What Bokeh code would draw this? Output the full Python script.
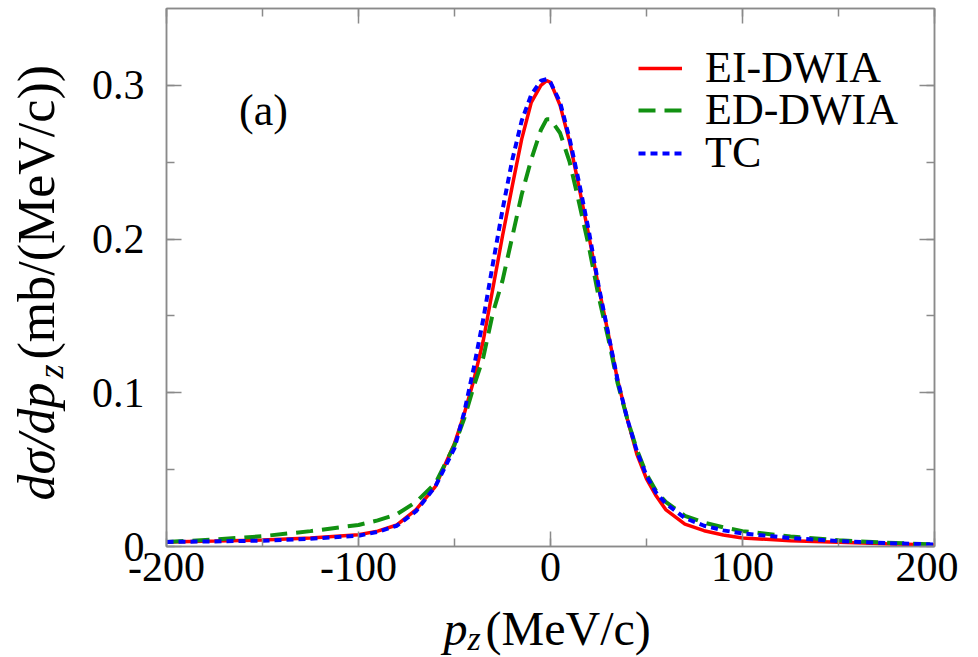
import math
from bokeh.plotting import figure
from bokeh.layouts import column, row
from bokeh.models import (Range1d, SingleIntervalTicker, LinearAxis, Label, Legend, LegendItem,
                          CustomJSTickFormatter)
from bokeh.embed import file_html
from bokeh.resources import INLINE

# ---- data ----
pz = [-200, -175, -150, -125, -100, -90, -80, -70, -60, -50, -45, -40, -35, -30, -25, -20, -15, -10, -5, -2, 0,
      5, 10, 15, 20, 25, 30, 35, 40, 45, 50, 55, 60, 70, 80, 90, 100, 125, 150, 175, 200]
ei_dwia = [0.003, 0.0035, 0.0042, 0.0055, 0.0077, 0.0100, 0.0140, 0.0240, 0.039, 0.067, 0.086, 0.108, 0.134, 0.168,
           0.202, 0.234, 0.265, 0.289, 0.300, 0.303, 0.302,
           0.287, 0.263, 0.233, 0.202, 0.169, 0.139, 0.108, 0.083, 0.060, 0.044, 0.033, 0.024, 0.0145, 0.0103,
           0.0075, 0.0055, 0.0038, 0.0027, 0.0018, 0.001]
ed_dwia = [0.003, 0.0045, 0.0067, 0.010, 0.014, 0.017, 0.021, 0.029, 0.041, 0.066, 0.083, 0.104, 0.123, 0.152,
           0.173, 0.201, 0.229, 0.252, 0.271, 0.278, 0.278,
           0.269, 0.250, 0.223, 0.195, 0.163, 0.136, 0.106, 0.083, 0.063, 0.047, 0.036, 0.029, 0.020, 0.0155,
           0.0125, 0.010, 0.0065, 0.004, 0.0025, 0.0013]
tc = [0.003, 0.0033, 0.0038, 0.005, 0.007, 0.0095, 0.0135, 0.023, 0.039, 0.064, 0.087, 0.116, 0.148, 0.184,
      0.219, 0.251, 0.277, 0.294, 0.303, 0.304, 0.302,
      0.289, 0.265, 0.236, 0.205, 0.170, 0.139, 0.108, 0.083, 0.062, 0.046, 0.035, 0.028, 0.0185, 0.0135,
      0.0105, 0.0085, 0.0055, 0.0035, 0.0022, 0.0013]
series_names = ["EI-DWIA", "ED-DWIA", "TC"]
x_ticks_labels = {-200: "-200", -100: "-100", 0: "0", 100: "100", 200: "200"}
y_ticks_labels = {0: "0", 0.1: "0.1", 0.2: "0.2", 0.3: "0.3"}
panel_tag = "(a)"

SERIF = "Liberation Serif"
GRAY = "#8a8a8a"
MAIN_H = 600

# ---------------- main plot ----------------
p = figure(width=888, height=MAIN_H, output_backend="svg", toolbar_location=None,
           x_range=Range1d(-200, 200), y_range=Range1d(0, 0.35),
           min_border_left=96, min_border_right=24, min_border_top=8, min_border_bottom=MAIN_H - 546,
           x_axis_type=None, y_axis_type=None)
p.grid.visible = False
p.outline_line_color = GRAY
p.outline_line_width = 1.5
p.background_fill_color = "white"
p.border_fill_color = "white"


def style_axis(ax, labels=True):
    ax.axis_line_color = GRAY
    ax.axis_line_width = 1.5
    ax.major_tick_line_color = GRAY
    ax.minor_tick_line_color = GRAY
    ax.major_tick_line_width = 1.5
    ax.minor_tick_line_width = 1.5
    ax.major_tick_in = 15
    ax.major_tick_out = 0
    ax.minor_tick_in = 8
    ax.minor_tick_out = 0
    ax.major_label_text_font = SERIF
    ax.major_label_text_color = "black"
    ax.major_label_text_font_size = "42px"
    if not labels:
        ax.formatter = CustomJSTickFormatter(code="return ''")
        ax.major_label_standoff = 0


xb = LinearAxis(ticker=SingleIntervalTicker(interval=100, num_minor_ticks=2))
style_axis(xb)
xb.major_label_overrides = x_ticks_labels
xb.major_label_standoff = 6
p.add_layout(xb, "below")

xt = LinearAxis(ticker=SingleIntervalTicker(interval=100, num_minor_ticks=2))
style_axis(xt, labels=False)
p.add_layout(xt, "above")

yl = LinearAxis(ticker=SingleIntervalTicker(interval=0.1, num_minor_ticks=2))
style_axis(yl)
yl.major_label_overrides = y_ticks_labels
yl.major_label_standoff = 22
p.add_layout(yl, "left")

yr = LinearAxis(ticker=SingleIntervalTicker(interval=0.1, num_minor_ticks=2))
style_axis(yr, labels=False)
p.add_layout(yr, "right")

r_ei = p.line(pz, ei_dwia, line_color="#ff0000", line_width=3.5)
r_ed = p.line(pz, ed_dwia, line_color="#119111", line_width=4, line_dash="17 9")
r_tc = p.line(pz, tc, line_color="#0000ff", line_width=4, line_dash="7 5")

# legends: one per row so the rows can sit close together
rows = [(r_ei, series_names[0]), (r_ed, series_names[1]), (r_tc, series_names[2])]
row_bottoms = [453, 411, 368]
for (r, name), vb in zip(rows, row_bottoms):
    lg = Legend(items=[LegendItem(label=name, renderers=[r])], location=(472, vb),
                padding=0, margin=0, spacing=0, glyph_width=44, glyph_height=42,
                label_height=42, label_standoff=23, background_fill_alpha=0,
                border_line_alpha=0, label_text_font=SERIF, label_text_font_size="44px",
                label_text_color="black", label_text_baseline="middle")
    p.add_layout(lg)

p.add_layout(Label(x=-149.5, y=0.2835, text=panel_tag, text_font=SERIF, text_font_size="44px",
                   text_color="black", text_align="center", text_baseline="middle"))


def blank_fig(w, h):
    f = figure(width=w, height=h, output_backend="svg", toolbar_location=None,
               x_range=Range1d(0, w), y_range=Range1d(0, h),
               min_border_left=0, min_border_right=0, min_border_top=0, min_border_bottom=0,
               x_axis_type=None, y_axis_type=None)
    f.grid.visible = False
    f.outline_line_color = None
    f.background_fill_color = "white"
    f.border_fill_color = "white"
    return f


# ---------------- y axis label strip (left) ----------------
YW, YH = 70, MAIN_H
yfig = blank_fig(YW, YH)
ang = math.pi / 2
Y_PX, YSUB_PX = "52px", "36px"
y_center_x = 35.5   # centre line of the rotated main text
y_sub_x = 50        # centre line of the rotated subscript
yfig.add_layout(Label(x=y_center_x, y=YH - 417, text="dσ/dp", text_font=SERIF, text_font_style="italic",
                      text_font_size=Y_PX, text_color="black", text_align="right",
                      text_baseline="middle", angle=ang))
yfig.add_layout(Label(x=y_sub_x, y=YH - 397, text="z", text_font=SERIF, text_font_style="italic",
                      text_font_size=YSUB_PX, text_color="black", text_align="right",
                      text_baseline="middle", angle=ang))
yfig.add_layout(Label(x=y_center_x, y=YH - 63, text="(mb/(MeV/c))", text_font=SERIF,
                      text_font_size=Y_PX, text_color="black", text_align="right",
                      text_baseline="middle", angle=ang))

# ---------------- x axis label strip (bottom) ----------------
XW, XH = 958, 57
xfig = blank_fig(XW, XH)
strip_bottom = MAIN_H + XH
X_PX, XSUB_PX = "48px", "34px"
xfig.add_layout(Label(x=443, y=strip_bottom - 628, text="p", text_font=SERIF, text_font_style="italic",
                      text_font_size=X_PX, text_color="black", text_align="left",
                      text_baseline="middle"))
xfig.add_layout(Label(x=467, y=strip_bottom - 638, text="z", text_font=SERIF, text_font_style="italic",
                      text_font_size=XSUB_PX, text_color="black", text_align="left",
                      text_baseline="middle"))
xfig.add_layout(Label(x=485, y=strip_bottom - 628, text="(MeV/c)", text_font=SERIF,
                      text_font_size=X_PX, text_color="black", text_align="left",
                      text_baseline="middle"))

layout = column(row(yfig, p, spacing=0), xfig, spacing=0)

open("out.html", "w").write(file_html(layout, INLINE))
